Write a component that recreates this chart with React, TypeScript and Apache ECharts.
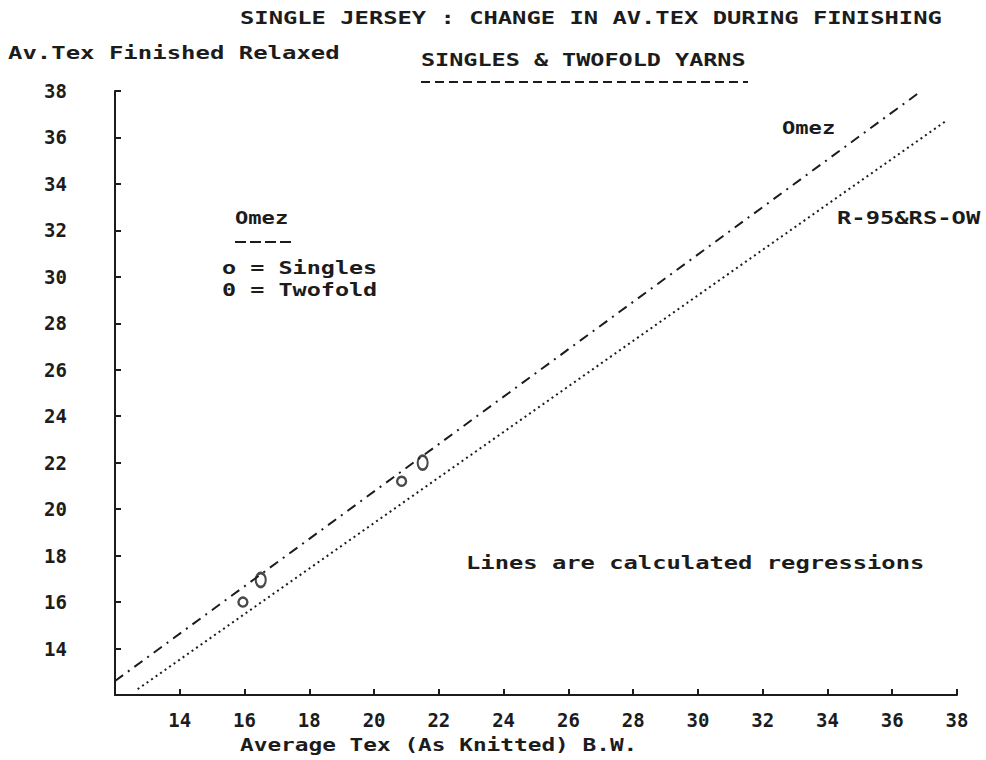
import React, { useEffect, useRef } from "react";
import * as echarts from "echarts";

// Regression lines (Av.Tex knitted -> Av.Tex finished relaxed)
const omezLine: number[][] = [[12, 12.6], [36.8, 37.9]];
const r95Line: number[][] = [[12.7, 12.25], [37.7, 36.75]];

// Measured points for the Omez yarns
const singlesPoints: number[][] = [[15.95, 16.0], [20.85, 21.2]];
const twofoldPoints: number[][] = [[16.5, 16.95], [21.5, 22.0]];

const axisMin = 12;
const axisMax = 38;
const tickStep = 2;

const FONT = "DejaVu Sans Mono";
const INK = "#1c1c1c";

const txt = (text: string, x: number, y: number, scale: number) => ({
  type: "text",
  x,
  y,
  scaleX: scale,
  style: {
    text,
    fill: INK,
    font: `bold 17px "${FONT}"`,
    textAlign: "left",
    textVerticalAlign: "middle",
  },
});

const dashLine = (x1: number, x2: number, y: number, dash: number[]) => ({
  type: "line",
  shape: { x1, y1: y, x2, y2: y },
  style: { stroke: INK, lineWidth: 2, lineDash: dash },
});

export default function App() {
  const ref = useRef<HTMLDivElement>(null);

  useEffect(() => {
    if (!ref.current) return;
    const chart = echarts.init(ref.current, null, { renderer: "svg" });
    const axisCommon = {
      type: "value",
      min: axisMin,
      max: axisMax,
      interval: tickStep,
      splitLine: { show: false },
      axisLine: { show: true, onZero: false, lineStyle: { color: INK, width: 2 } },
      axisTick: { show: true, inside: true, length: 6, lineStyle: { color: INK, width: 2 } },
      axisLabel: {
        color: INK,
        fontFamily: FONT,
        fontWeight: "bold",
        fontSize: 19,
        showMinLabel: false,
      },
    };
    chart.setOption({
      animation: false,
      backgroundColor: "#ffffff",
      grid: { left: 115, right: 29, top: 91, bottom: 65 },
      xAxis: { ...axisCommon, axisLabel: { ...axisCommon.axisLabel, margin: 15 } },
      yAxis: {
        ...axisCommon,
        axisLabel: { ...axisCommon.axisLabel, margin: 48 },
      },
      series: [
        {
          name: "Omez",
          type: "line",
          data: omezLine,
          symbol: "none",
          lineStyle: { color: INK, width: 2, type: [10, 6, 2, 6] },
        },
        {
          name: "R-95&RS-OW",
          type: "line",
          data: r95Line,
          symbol: "none",
          lineStyle: { color: INK, width: 2, type: [2, 3.5] },
        },
        {
          name: "Singles",
          type: "scatter",
          data: singlesPoints,
          symbol: "circle",
          symbolSize: 9,
          itemStyle: { color: "#ffffff", borderColor: INK, borderWidth: 2.4 },
        },
        {
          name: "Twofold",
          type: "scatter",
          data: twofoldPoints,
          symbol: "path://M5,0 A5,7 0 1,1 5,14 A5,7 0 1,1 5,0 Z",
          symbolSize: [10, 14],
          itemStyle: { color: "#ffffff", borderColor: INK, borderWidth: 2.4 },
        },
      ],
      graphic: [
        txt("SINGLE JERSEY : CHANGE IN AV.TEX DURING FINISHING", 240, 18, 1.4),
        txt("Av.Tex Finished Relaxed", 8, 53, 1.41),
        txt("SINGLES & TWOFOLD YARNS", 421, 60, 1.38),
        dashLine(421, 748, 82, [9, 5]),
        txt("Omez", 782, 128, 1.3),
        txt("R-95&RS-OW", 837, 218, 1.4),
        txt("Omez", 235, 218, 1.3),
        dashLine(235, 293, 242, [11, 4]),
        txt("o = Singles", 222, 268, 1.38),
        txt("0 = Twofold", 222, 290, 1.38),
        txt("Lines are calculated regressions", 466, 563, 1.4),
        txt("Average Tex (As Knitted) B.W.", 240, 745, 1.34),
      ],
    });
    return () => chart.dispose();
  }, []);

  return (
    <div
      ref={ref}
      style={{ position: "absolute", left: 0, top: 0, width: 986, height: 760 }}
    />
  );
}
